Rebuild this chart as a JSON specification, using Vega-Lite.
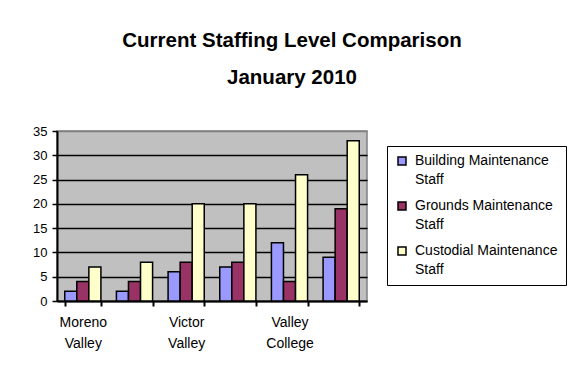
{
  "$schema": "https://vega.github.io/schema/vega-lite/v6.json",
  "width": 310,
  "height": 170,
  "autosize": {"type": "none"},
  "padding": {"left": 57, "top": 131, "right": 202, "bottom": 74},
  "background": "white",
  "title": {
    "text": ["Current Staffing Level Comparison", "January 2010"],
    "font": "Liberation Sans",
    "fontSize": 20.5,
    "fontWeight": "bold",
    "color": "black",
    "anchor": "middle",
    "frame": "group",
    "dx": 80,
    "offset": 37,
    "lineHeight": 37
  },
  "data": {
    "values": [
      {"site": "Moreno Valley", "staff": "Building Maintenance Staff", "count": 2},
      {"site": "Moreno Valley", "staff": "Grounds Maintenance Staff", "count": 4},
      {"site": "Moreno Valley", "staff": "Custodial Maintenance Staff", "count": 7},
      {"site": "Campus 2", "staff": "Building Maintenance Staff", "count": 2},
      {"site": "Campus 2", "staff": "Grounds Maintenance Staff", "count": 4},
      {"site": "Campus 2", "staff": "Custodial Maintenance Staff", "count": 8},
      {"site": "Victor Valley", "staff": "Building Maintenance Staff", "count": 6},
      {"site": "Victor Valley", "staff": "Grounds Maintenance Staff", "count": 8},
      {"site": "Victor Valley", "staff": "Custodial Maintenance Staff", "count": 20},
      {"site": "Campus 4", "staff": "Building Maintenance Staff", "count": 7},
      {"site": "Campus 4", "staff": "Grounds Maintenance Staff", "count": 8},
      {"site": "Campus 4", "staff": "Custodial Maintenance Staff", "count": 20},
      {"site": "Valley College", "staff": "Building Maintenance Staff", "count": 12},
      {"site": "Valley College", "staff": "Grounds Maintenance Staff", "count": 4},
      {"site": "Valley College", "staff": "Custodial Maintenance Staff", "count": 26},
      {"site": "Campus 6", "staff": "Building Maintenance Staff", "count": 9},
      {"site": "Campus 6", "staff": "Grounds Maintenance Staff", "count": 19},
      {"site": "Campus 6", "staff": "Custodial Maintenance Staff", "count": 33}
    ]
  },
  "mark": {"type": "bar", "stroke": "black", "strokeWidth": 1.5},
  "encoding": {
    "x": {
      "field": "site",
      "type": "nominal",
      "sort": null,
      "scale": {"paddingInner": 0.3, "paddingOuter": 0.15},
      "axis": {
        "title": null,
        "tickBand": "extent",
        "labelAngle": 0,
        "labelExpr": "indexof(datum.label, 'Campus') == 0 ? '' : split(datum.label, ' ')",
        "labelLineHeight": 21,
        "labelPadding": 9,
        "labelBaseline": "top",
        "labelFontSize": 14,
        "domainColor": "black",
        "domainWidth": 2,
        "tickColor": "black",
        "tickWidth": 2,
        "tickSize": 5
      }
    },
    "xOffset": {
      "field": "staff",
      "type": "nominal",
      "sort": ["Building Maintenance Staff", "Grounds Maintenance Staff", "Custodial Maintenance Staff"]
    },
    "y": {
      "field": "count",
      "type": "quantitative",
      "scale": {"domain": [0, 35], "nice": false},
      "axis": {
        "title": null,
        "values": [0, 5, 10, 15, 20, 25, 30, 35],
        "grid": true,
        "gridColor": {"condition": {"test": "datum.value == 35", "value": "#808080"}, "value": "black"},
        "gridWidth": 1.5,
        "domainColor": "black",
        "domainWidth": 2,
        "tickColor": "black",
        "tickWidth": 1.5,
        "tickSize": 5,
        "labelPadding": 5,
        "labelFontSize": 13
      }
    },
    "fill": {
      "field": "staff",
      "type": "nominal",
      "sort": ["Building Maintenance Staff", "Grounds Maintenance Staff", "Custodial Maintenance Staff"],
      "scale": {
        "domain": ["Building Maintenance Staff", "Grounds Maintenance Staff", "Custodial Maintenance Staff"],
        "range": ["#9999FF", "#993366", "#FFFFCC"]
      },
      "legend": {
        "title": null,
        "orient": "none",
        "legendX": 330,
        "legendY": 15,
        "labelExpr": "[replace(datum.label, ' Staff', ''), 'Staff']",
        "encode": {"labels": {"update": {"lineHeight": {"value": 19}}}}
      }
    }
  },
  "config": {
    "font": "Liberation Sans",
    "view": {"fill": "#C0C0C0", "stroke": "#808080", "strokeWidth": 1.5},
    "axis": {
      "labelFont": "Liberation Sans",
      "labelFontSize": 12.5,
      "labelColor": "black"
    },
    "legend": {
      "strokeColor": "black",
      "fillColor": "white",
      "padding": 8,
      "symbolType": "square",
      "symbolSize": 64,
      "symbolStrokeColor": "black",
      "symbolStrokeWidth": 1.5,
      "labelFont": "Liberation Sans",
      "labelFontSize": 14,
      "labelColor": "black",
      "labelLimit": 300,
      "rowPadding": 12,
      "labelOffset": 6
    }
  }
}
